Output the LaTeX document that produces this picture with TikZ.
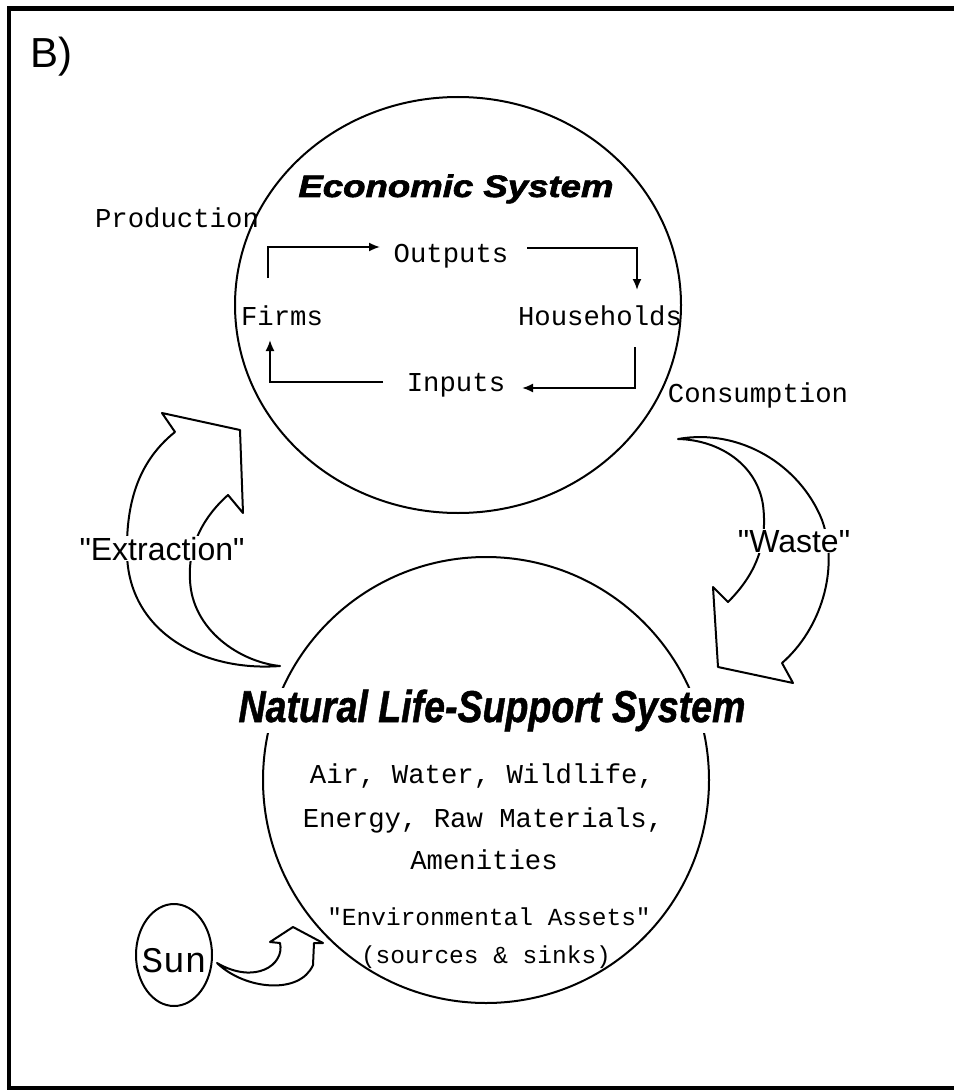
\documentclass[tikz,border=0pt]{standalone}
\usepackage{fontspec}
\setmainfont{Liberation Sans}
\newfontfamily\monof{Liberation Mono}
\newfontfamily\heavyf[FakeBold=2]{Liberation Sans Bold Italic}
\newfontfamily\heavynf[FakeBold=1.2]{Liberation Sans Bold Italic}
\usetikzlibrary{shapes.geometric,arrows.meta,calc}
\begin{document}
\begin{tikzpicture}[x=1pt,y=-1pt,
  mono/.style={font=\monof\fontsize{27.3}{30}\selectfont, inner sep=0pt, anchor=base},
  monosm/.style={font=\monof\fontsize{24.5}{28}\selectfont, inner sep=0pt, anchor=base},
  lbl/.style={font=\fontsize{32}{36}\selectfont, fill=white, inner sep=1pt, anchor=base},
  ttl/.style={inner sep=0pt, anchor=base},
  flow/.style={line width=1.8pt, -{Latex[length=11pt,width=9pt]}},
  bigarrow/.style={line width=2pt, line join=round},
  ring/.style={draw, line width=2pt, inner sep=0pt},
  frameline/.style={line cap=rect}]
\useasboundingbox (0,0) rectangle (953,1091);
% frame
\draw[frameline, line width=5pt] (9,9) -- (953,9);
\draw[frameline, line width=3.5pt] (9,9) -- (9,1088);
\draw[frameline, line width=4pt] (9,1088) -- (953,1088);
\node[inner sep=0pt, anchor=base west, font=\fontsize{42}{46}\selectfont] (blabel) at (30,68) {B)};
% circles
\node[ring, ellipse, minimum width=446pt, minimum height=416pt] (econ) at (458,305) {};
\node[ring, circle, minimum size=446pt] (nature) at (486,780) {};
\node[ring, ellipse, minimum width=76pt, minimum height=102pt] (sun) at (174,955) {};
% big arrows
\draw[bigarrow] (280,666) .. controls (200,672) and (128,630) .. (127,553)
  .. controls (126,500) and (140,460) .. (175,432)
  -- (162,413) -- (240,430) -- (243,513) -- (228,495)
  .. controls (200,520) and (188,550) .. (190,580)
  .. controls (192,630) and (240,662) .. cycle;
\draw[bigarrow] (678,439) .. controls (740,428) and (800,465) .. (822,520)
  .. controls (840,570) and (820,630) .. (782,663)
  -- (793,683) -- (718,667) -- (713,587) -- (728,602)
  .. controls (755,575) and (768,545) .. (763,505)
  .. controls (757,465) and (720,440) .. cycle;
\draw[bigarrow] (217,963) .. controls (245,990) and (300,995) .. (313,965)
  -- (314,943) -- (323,943) -- (293,927) -- (270,942) -- (280,943)
  .. controls (285,965) and (255,985) .. cycle;
% titles
\node[ttl] (econtitle) at (456,197) {\heavyf\fontsize{31}{34}\selectfont\scalebox{1.18}[1]{Economic System}};
\node[ttl, fill=white, inner sep=2pt] (nattitle) at (492,722) {\heavynf\fontsize{44.7}{48}\selectfont\scalebox{0.84}[1]{Natural Life-Support System}};
% economic flow
\node[mono] (production) at (177,228) {Production};
\node[mono] (outputs) at (451,262) {Outputs};
\node[mono] (firms) at (282,325) {Firms};
\node[mono] (households) at (600,325) {Households};
\node[mono] (inputs) at (456,391) {Inputs};
\node[mono] (consumption) at (758,402) {Consumption};
\draw[flow] ([shift={(-14,-47)}]firms.base) |- ([shift={(-71,-15)}]outputs.base);
\draw[flow] ([shift={(76,-14)}]outputs.base) -| ([shift={(37,-35)}]households.base);
\draw[flow] ([shift={(35,22)}]households.base) |- ([shift={(66,-3)}]inputs.base);
\draw[flow] ([shift={(-73,-9)}]inputs.base) -| ([shift={(-12,15)}]firms.base);
% arrow labels
\node[lbl] (extraction) at (162,560) {\textquotedbl Extraction\textquotedbl};
\node[lbl] (waste) at (794,552) {\textquotedbl Waste\textquotedbl};
% nature contents
\node[mono] (air) at (482,783) {Air, Water, Wildlife,};
\node[mono] (energy) at (483,827) {Energy, Raw Materials,};
\node[mono] (amen) at (484,869) {Amenities};
\node[monosm] (assets) at (489,925) {"Environmental Assets"};
\node[monosm] (sinks) at (486,963) {(sources \& sinks)};
\node[inner sep=0pt, anchor=base, font=\monof\fontsize{36}{40}\selectfont] (suntext) at (174,972) {Sun};
\end{tikzpicture}
\end{document}
